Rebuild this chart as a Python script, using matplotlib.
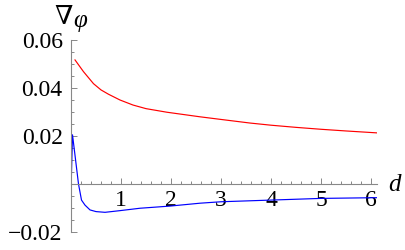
import matplotlib
matplotlib.use('Agg')
import matplotlib.pyplot as plt
from matplotlib.ticker import MultipleLocator, FixedLocator

plt.rcParams['font.family'] = ['Liberation Serif', 'DejaVu Serif']
plt.rcParams['axes.unicode_minus'] = True

# red curve
red_d = [0.08, 0.25, 0.45, 0.6, 0.75, 0.98, 1.24, 1.5, 1.92, 2.58,
         3.0, 3.58, 4.0, 4.5, 5.0, 5.5, 6.12]
red_v = [0.0517, 0.0468, 0.0418, 0.0392, 0.0374, 0.035, 0.0329, 0.0314,
         0.0299, 0.028, 0.0269, 0.0254, 0.0245, 0.0236, 0.0228, 0.0221,
         0.0213]

# blue curve
blue_d = [0.0, 0.03, 0.08, 0.15, 0.21, 0.28, 0.38, 0.5, 0.68, 0.98, 1.38,
          1.98, 2.58, 3.0, 4.0, 5.0, 6.12]
blue_v = [-0.003, 0.0205, 0.012, 0.0, -0.0067, -0.0088, -0.0108, -0.0115,
          -0.0118, -0.0111, -0.0101, -0.0092, -0.008, -0.0074, -0.0067,
          -0.006, -0.0057]

xticks = [1, 2, 3, 4, 5, 6]
yticks = [-0.02, 0.02, 0.04, 0.06]
ylabels = ['\u22120.02', '0.02', '0.04', '0.06']

fig = plt.figure(figsize=(4.05, 2.5), dpi=100)
ax = fig.add_axes([71 / 405, 18 / 250, 306 / 405, 192 / 250])

ax.plot(red_d, red_v, color='#ff0000', lw=0.85)
ax.plot(blue_d, blue_v, color='#0000ff', lw=0.85)

ax.set_xlim(0, 6.12)
ax.set_ylim(-0.02, 0.06)

for s in ['top', 'right']:
    ax.spines[s].set_visible(False)
ax.spines['bottom'].set_position(('data', 0))
for s in ['left', 'bottom']:
    ax.spines[s].set_color('#888888')
    ax.spines[s].set_linewidth(0.8)

ax.xaxis.set_major_locator(FixedLocator(xticks))
ax.xaxis.set_minor_locator(MultipleLocator(0.2))
ax.set_xticklabels([str(t) for t in xticks])
ax.yaxis.set_major_locator(FixedLocator(yticks))
ax.yaxis.set_minor_locator(MultipleLocator(0.005))
ax.set_yticklabels(ylabels)

ax.tick_params(which='both', direction='in', color='#888888', width=0.7)
ax.tick_params(which='major', length=4, labelsize=17)
ax.tick_params(axis='x', which='major', pad=4)
ax.tick_params(axis='y', which='major', pad=6)
ax.tick_params(which='minor', length=2.5)

fig.text(63.5 / 405, 1 - 17.5 / 250, '\u2207', fontsize=19,
         family=['Liberation Serif', 'DejaVu Serif'], ha='center', va='center')
fig.text(80 / 405, 1 - 21 / 250, '\u03c6', fontsize=18, style='italic',
         ha='center', va='center')
fig.text(394 / 405, 1 - 185 / 250, 'd', fontsize=18, style='italic',
         ha='center', va='center')

fig.savefig('out.png', dpi=100)
